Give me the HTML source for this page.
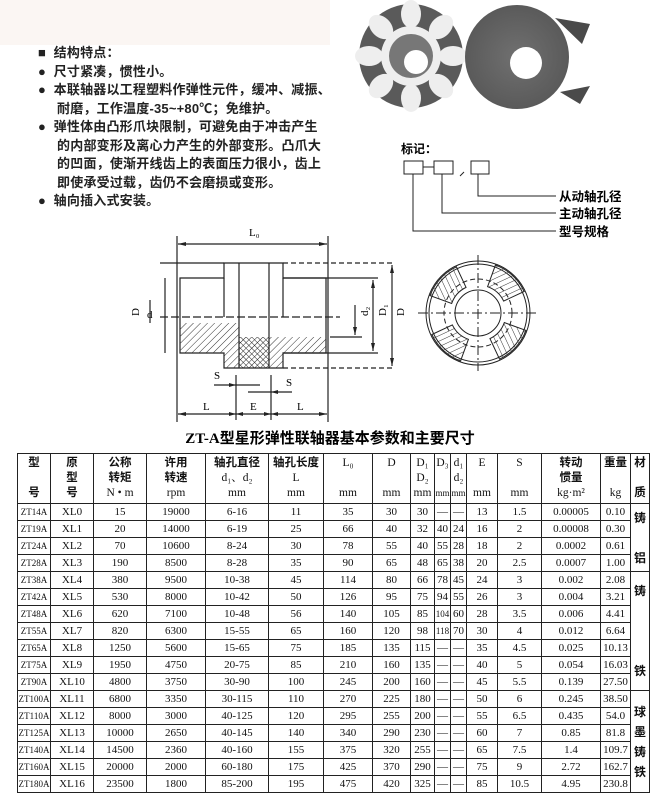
<!DOCTYPE html>
<html><head><meta charset="utf-8">
<style>
body{margin:0;width:660px;height:805px;background:#fff;position:relative;overflow:hidden;font-family:"Liberation Sans","Noto Sans CJK SC",sans-serif;color:#111}
.feat{position:absolute;left:38px;top:44px;font-size:13px;line-height:18.5px;font-weight:bold;color:#222;letter-spacing:0.2px}
.feat div{white-space:nowrap}
table{position:absolute;left:17px;top:453px;border-collapse:collapse;table-layout:fixed;font-family:"Liberation Serif","Noto Serif CJK SC",serif;font-size:11px}
td{border:1px solid #222;text-align:center;padding:0;height:16px;line-height:14px;overflow:hidden;white-space:nowrap}
thead td{height:49px;line-height:15px;font-size:11.5px}
.cj{font-family:"Liberation Sans","Noto Sans CJK SC",sans-serif;font-weight:bold}
.s{font-size:9px}
.mat{font-family:"Liberation Sans","Noto Sans CJK SC",sans-serif;font-weight:bold;font-size:12px;line-height:20px;white-space:normal}
</style></head><body>
<div style="position:absolute;left:0;top:0;width:330px;height:45px;background:#fbf6f3"></div>
<div class="feat">
<div>■&nbsp; 结构特点：</div>
<div>●&nbsp; 尺寸紧凑，惯性小。</div>
<div>●&nbsp; 本联轴器以工程塑料作弹性元件，缓冲、减振、</div>
<div>&nbsp;&nbsp;&nbsp;&nbsp; 耐磨，工作温度-35~+80℃；免维护。</div>
<div>●&nbsp; 弹性体由凸形爪块限制，可避免由于冲击产生</div>
<div>&nbsp;&nbsp;&nbsp;&nbsp; 的内部变形及离心力产生的外部变形。凸爪大</div>
<div>&nbsp;&nbsp;&nbsp;&nbsp; 的凹面，使渐开线齿上的表面压力很小，齿上</div>
<div>&nbsp;&nbsp;&nbsp;&nbsp; 即使承受过载，齿仍不会磨损或变形。</div>
<div>●&nbsp; 轴向插入式安装。</div>
</div>

<svg style="position:absolute;left:0;top:0" width="660" height="450">
<defs>
<pattern id="h" width="5" height="5" patternUnits="userSpaceOnUse" patternTransform="rotate(45)"><line x1="0" y1="0" x2="0" y2="5" stroke="#333" stroke-width="1"/></pattern>
<pattern id="x" width="4" height="4" patternUnits="userSpaceOnUse" patternTransform="rotate(45)"><path d="M0 0V4M0 0H4" stroke="#222" stroke-width="1"/></pattern>
<radialGradient id="g1"><stop offset="0" stop-color="#707070"/><stop offset="1" stop-color="#5a5a5a"/></radialGradient>
</defs>
<circle cx="411" cy="56" r="52" fill="#5a5a5a"/>
<g fill="#eee">
<ellipse cx="411" cy="14" rx="10" ry="14"/><ellipse cx="441" cy="27" rx="10" ry="14" transform="rotate(45 441 27)"/>
<ellipse cx="453" cy="56" rx="14" ry="10"/><ellipse cx="441" cy="86" rx="10" ry="14" transform="rotate(-45 441 86)"/>
<ellipse cx="411" cy="98" rx="10" ry="14"/><ellipse cx="381" cy="86" rx="10" ry="14" transform="rotate(45 381 86)"/>
<ellipse cx="369" cy="56" rx="14" ry="10"/><ellipse cx="381" cy="27" rx="10" ry="14" transform="rotate(-45 381 27)"/>
<circle cx="411" cy="56" r="30"/></g>
<circle cx="411" cy="56" r="22" fill="#777"/><circle cx="416" cy="62" r="12" fill="#fff"/>
<circle cx="517" cy="57" r="52" fill="url(#g1)"/>
<path d="M555 18 L590 24 L582 44 Z M560 92 L590 86 L580 104Z" fill="#4a4a4a"/>
<circle cx="526" cy="63" r="16" fill="#fff"/>
<text x="401" y="153" font-size="12" font-family="Noto Sans CJK SC" font-weight="bold">标记：</text>
<g fill="none" stroke="#222" stroke-width="1">
<rect x="404" y="161" width="19" height="13"/><rect x="434" y="161" width="19" height="13"/><rect x="471" y="161" width="18" height="13"/>
<line x1="423" y1="167" x2="434" y2="167"/><line x1="464" y1="172" x2="460" y2="176"/>
<polyline points="478,174 478,196 556,196"/><polyline points="442,174 442,213 556,213"/><polyline points="413,174 413,231 556,231"/>
</g>
<g font-size="12.5" font-family="Noto Sans CJK SC" font-weight="bold">
<text x="559" y="201">从动轴孔径</text><text x="559" y="218">主动轴孔径</text><text x="559" y="236">型号规格</text></g>
<g fill="none" stroke="#222" stroke-width="1.2">
<line x1="177" y1="236" x2="177" y2="422"/><line x1="328" y1="236" x2="328" y2="422"/>
<line x1="178" y1="244" x2="327" y2="244"/>
<path d="M180 278 H224 V263 H283 V278 H326 V353 H283 V368 H224 V353 H180 Z"/>
<line x1="239" y1="263" x2="239" y2="368"/><line x1="269" y1="263" x2="269" y2="368"/>
<line x1="224" y1="278" x2="224" y2="317"/><line x1="283" y1="278" x2="283" y2="317"/>
<line x1="160" y1="263" x2="224" y2="263"/><line x1="283" y1="263" x2="395" y2="263" stroke-dasharray="5 3"/>
<line x1="283" y1="278" x2="378" y2="278"/><line x1="283" y1="353" x2="378" y2="353"/>
<line x1="283" y1="368" x2="395" y2="368" stroke-dasharray="5 3"/>
<line x1="160" y1="317" x2="340" y2="317" stroke-dasharray="8 3"/>
<line x1="373" y1="280" x2="373" y2="351"/><line x1="392" y1="265" x2="392" y2="366"/>
<line x1="355" y1="305" x2="355" y2="335"/><line x1="330" y1="337" x2="362" y2="337"/>
<line x1="165" y1="278" x2="165" y2="353"/><line x1="150" y1="300" x2="150" y2="323"/>
<line x1="236" y1="375" x2="236" y2="420"/><line x1="271" y1="375" x2="271" y2="420"/>
<line x1="214" y1="385" x2="260" y2="385"/><line x1="248" y1="392" x2="292" y2="392"/>
<line x1="178" y1="414" x2="327" y2="414"/>
</g>
<rect x="180" y="323" width="59" height="30" fill="url(#h)"/><rect x="224" y="353" width="15" height="15" fill="url(#h)"/>
<rect x="269" y="337" width="57" height="16" fill="url(#h)"/><rect x="269" y="353" width="14" height="15" fill="url(#h)"/>
<rect x="239" y="337" width="30" height="31" fill="url(#x)"/>
<g fill="#222"><path d="M178 244l8-2v4z M327 244l-8-2v4z M373 280l-2 8h4z M373 351l-2-8h4z M392 265l-2 8h4z M392 366l-2-8h4z M355 335l-2-8h4z M178 414l8-2v4z M327 414l-8-2v4z M236 414l-7-2v4z M236 414l7-2v4z M271 414l-7-2v4z M271 414l7-2v4z M236 385l-7-2v4z M271 392l7-2v4z"/></g>
<g font-family="Liberation Serif" font-size="11">
<text x="249" y="236">L₀</text><text x="214" y="379">S</text><text x="286" y="386">S</text>
<text x="203" y="410">L</text><text x="250" y="410">E</text><text x="297" y="410">L</text>
<text x="133" y="322" transform="rotate(-90 133 316)">D</text><text x="147" y="318">d</text>
<text x="362" y="322" transform="rotate(-90 362 316)">d₂</text><text x="380" y="322" transform="rotate(-90 380 316)">D₁</text><text x="398" y="322" transform="rotate(-90 398 316)">D</text></g>
<g fill="none" stroke="#222" stroke-width="1">
<circle cx="478" cy="313" r="52"/><circle cx="478" cy="313" r="49"/><circle cx="478" cy="313" r="23"/><circle cx="478" cy="313" r="34" stroke-dasharray="5 3"/>
<line x1="418" y1="313" x2="538" y2="313" stroke-dasharray="10 3 2 3"/><line x1="478" y1="255" x2="478" y2="371" stroke-dasharray="10 3 2 3"/>
</g>
<g fill="url(#h)" stroke="#222"><path d="M478 262 a51 51 0 0 1 36 15 l-16 16 a28 28 0 0 0 -20 -8z" transform="rotate(20 478 313)"/>
<path d="M478 262 a51 51 0 0 1 36 15 l-16 16 a28 28 0 0 0 -20 -8z" transform="rotate(110 478 313)"/>
<path d="M478 262 a51 51 0 0 1 36 15 l-16 16 a28 28 0 0 0 -20 -8z" transform="rotate(200 478 313)"/>
<path d="M478 262 a51 51 0 0 1 36 15 l-16 16 a28 28 0 0 0 -20 -8z" transform="rotate(290 478 313)"/></g>
<text x="330" y="443" text-anchor="middle" font-size="15" font-family="Liberation Serif,Noto Sans CJK SC" font-weight="bold">ZT-A型星形弹性联轴器基本参数和主要尺寸</text>
</svg>

<table>
<colgroup><col style="width:33px"><col style="width:43px"><col style="width:53px"><col style="width:59px"><col style="width:63px"><col style="width:55px"><col style="width:49px"><col style="width:38px"><col style="width:24px"><col style="width:16px"><col style="width:16px"><col style="width:31px"><col style="width:44px"><col style="width:59px"><col style="width:30px"><col style="width:19px"></colgroup>
<thead><tr>
<td class="cj">型<br><br>号</td><td class="cj">原<br>型<br>号</td><td><span class="cj">公称<br>转矩</span><br>N • m</td><td><span class="cj">许用<br>转速</span><br>rpm</td><td><span class="cj">轴孔直径</span><br>d₁、d₂<br>mm</td><td><span class="cj">轴孔长度</span><br>L<br>mm</td><td>L₀<br><br>mm</td><td>D<br><br>mm</td><td>D₁<br>D₂<br>mm</td><td>D₃<br><br><span class="s">mm</span></td><td>d₁<br>d₂<br><span class="s">mm</span></td><td>E<br><br>mm</td><td>S<br><br>mm</td><td><span class="cj">转动<br>惯量</span><br>kg·m²</td><td class="cj">重量<br><br><span style="font-weight:normal;font-family:Liberation Serif">kg</span></td><td class="cj">材<br><br>质</td></tr></thead>
<tbody>
<tr><td class="s">ZT14A</td><td>XL0</td><td>15</td><td>19000</td><td>6-16</td><td>11</td><td>35</td><td>30</td><td>30</td><td>—</td><td>—</td><td>13</td><td>1.5</td><td>0.00005</td><td>0.10</td><td rowspan="4" class="mat">铸<br><br>铝</td></tr>
<tr><td class="s">ZT19A</td><td>XL1</td><td>20</td><td>14000</td><td>6-19</td><td>25</td><td>66</td><td>40</td><td>32</td><td>40</td><td>24</td><td>16</td><td>2</td><td>0.00008</td><td>0.30</td></tr>
<tr><td class="s">ZT24A</td><td>XL2</td><td>70</td><td>10600</td><td>8-24</td><td>30</td><td>78</td><td>55</td><td>40</td><td>55</td><td>28</td><td>18</td><td>2</td><td>0.0002</td><td>0.61</td></tr>
<tr><td class="s">ZT28A</td><td>XL3</td><td>190</td><td>8500</td><td>8-28</td><td>35</td><td>90</td><td>65</td><td>48</td><td>65</td><td>38</td><td>20</td><td>2.5</td><td>0.0007</td><td>1.00</td></tr>
<tr><td class="s">ZT38A</td><td>XL4</td><td>380</td><td>9500</td><td>10-38</td><td>45</td><td>114</td><td>80</td><td>66</td><td>78</td><td>45</td><td>24</td><td>3</td><td>0.002</td><td>2.08</td><td rowspan="7" class="mat">铸<br><br><br><br>铁</td></tr>
<tr><td class="s">ZT42A</td><td>XL5</td><td>530</td><td>8000</td><td>10-42</td><td>50</td><td>126</td><td>95</td><td>75</td><td>94</td><td>55</td><td>26</td><td>3</td><td>0.004</td><td>3.21</td></tr>
<tr><td class="s">ZT48A</td><td>XL6</td><td>620</td><td>7100</td><td>10-48</td><td>56</td><td>140</td><td>105</td><td>85</td><td class="s">104</td><td>60</td><td>28</td><td>3.5</td><td>0.006</td><td>4.41</td></tr>
<tr><td class="s">ZT55A</td><td>XL7</td><td>820</td><td>6300</td><td>15-55</td><td>65</td><td>160</td><td>120</td><td>98</td><td class="s">118</td><td>70</td><td>30</td><td>4</td><td>0.012</td><td>6.64</td></tr>
<tr><td class="s">ZT65A</td><td>XL8</td><td>1250</td><td>5600</td><td>15-65</td><td>75</td><td>185</td><td>135</td><td>115</td><td>—</td><td>—</td><td>35</td><td>4.5</td><td>0.025</td><td>10.13</td></tr>
<tr><td class="s">ZT75A</td><td>XL9</td><td>1950</td><td>4750</td><td>20-75</td><td>85</td><td>210</td><td>160</td><td>135</td><td>—</td><td>—</td><td>40</td><td>5</td><td>0.054</td><td>16.03</td></tr>
<tr><td class="s">ZT90A</td><td>XL10</td><td>4800</td><td>3750</td><td>30-90</td><td>100</td><td>245</td><td>200</td><td>160</td><td>—</td><td>—</td><td>45</td><td>5.5</td><td>0.139</td><td>27.50</td></tr>
<tr><td class="s">ZT100A</td><td>XL11</td><td>6800</td><td>3350</td><td>30-115</td><td>110</td><td>270</td><td>225</td><td>180</td><td>—</td><td>—</td><td>50</td><td>6</td><td>0.245</td><td>38.50</td><td rowspan="6" class="mat">球<br>墨<br>铸<br>铁</td></tr>
<tr><td class="s">ZT110A</td><td>XL12</td><td>8000</td><td>3000</td><td>40-125</td><td>120</td><td>295</td><td>255</td><td>200</td><td>—</td><td>—</td><td>55</td><td>6.5</td><td>0.435</td><td>54.0</td></tr>
<tr><td class="s">ZT125A</td><td>XL13</td><td>10000</td><td>2650</td><td>40-145</td><td>140</td><td>340</td><td>290</td><td>230</td><td>—</td><td>—</td><td>60</td><td>7</td><td>0.85</td><td>81.8</td></tr>
<tr><td class="s">ZT140A</td><td>XL14</td><td>14500</td><td>2360</td><td>40-160</td><td>155</td><td>375</td><td>320</td><td>255</td><td>—</td><td>—</td><td>65</td><td>7.5</td><td>1.4</td><td>109.7</td></tr>
<tr><td class="s">ZT160A</td><td>XL15</td><td>20000</td><td>2000</td><td>60-180</td><td>175</td><td>425</td><td>370</td><td>290</td><td>—</td><td>—</td><td>75</td><td>9</td><td>2.72</td><td>162.7</td></tr>
<tr><td class="s">ZT180A</td><td>XL16</td><td>23500</td><td>1800</td><td>85-200</td><td>195</td><td>475</td><td>420</td><td>325</td><td>—</td><td>—</td><td>85</td><td>10.5</td><td>4.95</td><td>230.8</td></tr>
</tbody></table>
</body></html>
